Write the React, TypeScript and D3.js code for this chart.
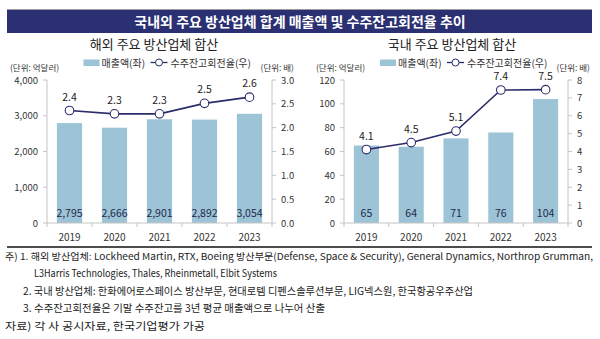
import React from 'react';
import * as d3 from 'd3';

const years = ['2019', '2020', '2021', '2022', '2023'];
const overseasSales = [2795, 2666, 2901, 2892, 3054];
const overseasRatio = [2.36, 2.29, 2.29, 2.51, 2.64];
const domesticSales = [65, 64, 71, 76, 104];
const domesticRatio = [4.11, 4.5, 5.14, 7.44, 7.46];
const overseasLeftTicks = [0, 1000, 2000, 3000, 4000];
const overseasRightTicks = [0, 0.5, 1.0, 1.5, 2.0, 2.5, 3.0];
const domesticLeftTicks = [0, 20, 40, 60, 80, 100, 120];
const domesticRightTicks = [0, 1, 2, 3, 4, 5, 6, 7, 8];

const mainTitle = '국내외 주요 방산업체 합계 매출액 및 수주잔고회전율 추이';
const overseasTitle = '해외 주요 방산업체 합산';
const domesticTitle = '국내 주요 방산업체 합산';
const legendBar = '매출액(좌)';
const legendLine = '수주잔고회전율(우)';
const unitLeft = '(단위: 억달러)';
const unitRight = '(단위: 배)';
const notes = [
  '주) 1. 해외 방산업체: Lockheed Martin, RTX, Boeing  방산부문(Defense, Space & Security), General Dynamics, Northrop Grumman,',
  'L3Harris Technologies, Thales, Rheinmetall, Elbit Systems',
  '2. 국내 방산업체:  한화에어로스페이스 방산부문, 현대로템 디펜스솔루션부문, LIG넥스원, 한국항공우주산업',
  '3. 수주잔고회전율은 기말 수주잔고를 3년 평균 매출액으로 나누어 산출',
  '자료) 각 사 공시자료, 한국기업평가 가공',
];

const FONT = '"Noto Sans CJK KR", "Noto Sans", sans-serif';
const BAR = '#9dc3d7';
const NAVY = '#2b2d6b';
const AXIS = '#c4c4c4';
const TXT = '#333';

type PanelProps = {
  left: number;
  right: number;
  title: string;
  titleX: number;
  unitLX: number;
  sales: number[];
  ratio: number[];
  lTicks: number[];
  rTicks: number[];
  lMax: number;
  rMax: number;
  lFmt: (v: number) => string;
  rFmt: (v: number) => string;
};

const TOP = 80;
const BOT = 223;

function Panel(p: PanelProps) {
  const x = d3.scaleBand<string>().domain(years).range([p.left, p.right]).paddingInner(0.44).paddingOuter(0.22);
  const yL = d3.scaleLinear().domain([0, p.lMax]).range([BOT, TOP]);
  const yR = d3.scaleLinear().domain([0, p.rMax]).range([BOT, TOP]);
  const cx = (y: string) => (x(y) as number) + x.bandwidth() / 2;
  const line = d3
    .line<number>()
    .x((_, i) => cx(years[i]))
    .y((d) => yR(d));
  const step = x.step();
  const boundaries = d3.range(years.length + 1).map((i) => p.left + i * step);
  const mid = (p.left + p.right) / 2;
  const lgX = mid - 76;
  return (
    <g fontFamily={FONT}>
      <text x={p.titleX} y={48.5} textAnchor="middle" fontSize={13} fill="#222">{p.title}</text>
      {/* legend */}
      <rect x={lgX} y={59.5} width={16} height={6.5} fill={BAR} />
      <text x={lgX + 18} y={66.5} fontSize={10} fill={TXT}>{legendBar}</text>
      <line x1={lgX + 67} x2={lgX + 84} y1={62.5} y2={62.5} stroke={NAVY} strokeWidth={1.3} />
      <circle cx={lgX + 75.5} cy={62.5} r={3.5} fill="#fff" stroke={NAVY} strokeWidth={1} />
      <text x={lgX + 87} y={66.5} fontSize={10} fill={TXT}>{legendLine}</text>
      <text x={p.unitLX} y={71} fontSize={8.5} fill={TXT}>{unitLeft}</text>
      <text x={p.right + 22} y={71} fontSize={8.5} fill={TXT} textAnchor="end">{unitRight}</text>
      {/* bars */}
      {p.sales.map((v, i) => (
        <rect key={i} x={x(years[i])} y={yL(v)} width={x.bandwidth()} height={BOT - yL(v)} fill={BAR} />
      ))}
      {/* axes */}
      <line x1={p.left} x2={p.left} y1={TOP} y2={BOT} stroke={AXIS} />
      <line x1={p.right} x2={p.right} y1={TOP} y2={BOT} stroke={AXIS} />
      <line x1={p.left} x2={p.right} y1={BOT} y2={BOT} stroke={AXIS} />
      {p.lTicks.map((t) => (
        <g key={'l' + t}>
          <line x1={p.left - 4} x2={p.left} y1={yL(t)} y2={yL(t)} stroke={AXIS} />
          <text x={p.left - 9} y={yL(t) + 3.5} fontSize={9.5} textAnchor="end" fill={TXT}>{p.lFmt(t)}</text>
        </g>
      ))}
      {p.rTicks.map((t) => (
        <g key={'r' + t}>
          <line x1={p.right} x2={p.right + 4} y1={yR(t)} y2={yR(t)} stroke={AXIS} />
          <text x={p.right + 9} y={yR(t) + 3.5} fontSize={9.5} fill={TXT}>{p.rFmt(t)}</text>
        </g>
      ))}
      {boundaries.map((b, i) => (
        <line key={'b' + i} x1={b} x2={b} y1={BOT} y2={BOT + 4} stroke={AXIS} />
      ))}
      {years.map((yr) => (
        <text key={yr} x={cx(yr)} y={241} fontSize={10} textAnchor="middle" fill={TXT}>{yr}</text>
      ))}
      {p.sales.map((v, i) => (
        <text key={'v' + i} x={cx(years[i])} y={217} fontSize={10.5} textAnchor="middle" fill="#1e2a48">{d3.format(',')(v)}</text>
      ))}
      {/* line */}
      <path d={line(p.ratio) || ''} fill="none" stroke={NAVY} strokeWidth={1.6} />
      {p.ratio.map((v, i) => (
        <g key={'c' + i}>
          <circle cx={cx(years[i])} cy={yR(v)} r={4.3} fill="#fff" stroke={NAVY} strokeWidth={1.1} />
          <text x={cx(years[i])} y={yR(v) - 10} fontSize={10.5} textAnchor="middle" fill="#222">{v.toFixed(1)}</text>
        </g>
      ))}
    </g>
  );
}

export default function App() {
  return (
    <svg width={600} height={339} style={{ position: 'absolute', left: 0, top: 0, background: '#fff' }}>
      <rect x={0} y={0} width={600} height={339} fill="#fff" />
      <line x1={7} x2={592} y1={9.5} y2={9.5} stroke="#9a9a9a" />
      <rect x={7} y={10} width={585} height={23} fill="#2b3072" />
      <text x={300} y={26.5} textAnchor="middle" fontFamily={FONT} fontSize={14} fontWeight="bold" fill="#fff">{mainTitle}</text>
      <Panel
        left={47}
        right={272}
        title={overseasTitle}
        titleX={154}
        unitLX={10}
        sales={overseasSales}
        ratio={overseasRatio}
        lTicks={overseasLeftTicks}
        rTicks={overseasRightTicks}
        lMax={4000}
        rMax={3}
        lFmt={d3.format(',')}
        rFmt={(v) => v.toFixed(1)}
      />
      <Panel
        left={344}
        right={568}
        title={domesticTitle}
        titleX={452}
        unitLX={316}
        sales={domesticSales}
        ratio={domesticRatio}
        lTicks={domesticLeftTicks}
        rTicks={domesticRightTicks}
        lMax={120}
        rMax={8}
        lFmt={(v) => String(v)}
        rFmt={(v) => String(v)}
      />
      <line x1={7} x2={592} y1={247} y2={247} stroke="#111" strokeWidth={1.5} />
      <g fontFamily={FONT} fontSize={10.5} fill="#222">
        <text x={5} y={260} fontSize={9.6} textLength={588} lengthAdjust="spacingAndGlyphs">{notes[0]}</text>
        <text x={34} y={277} textLength={243} lengthAdjust="spacingAndGlyphs">{notes[1]}</text>
        <text x={23} y={295} textLength={450} lengthAdjust="spacingAndGlyphs">{notes[2]}</text>
        <text x={23} y={312} textLength={302} lengthAdjust="spacingAndGlyphs">{notes[3]}</text>
        <text x={5} y={330} textLength={200} lengthAdjust="spacingAndGlyphs">{notes[4]}</text>
      </g>
    </svg>
  );
}
